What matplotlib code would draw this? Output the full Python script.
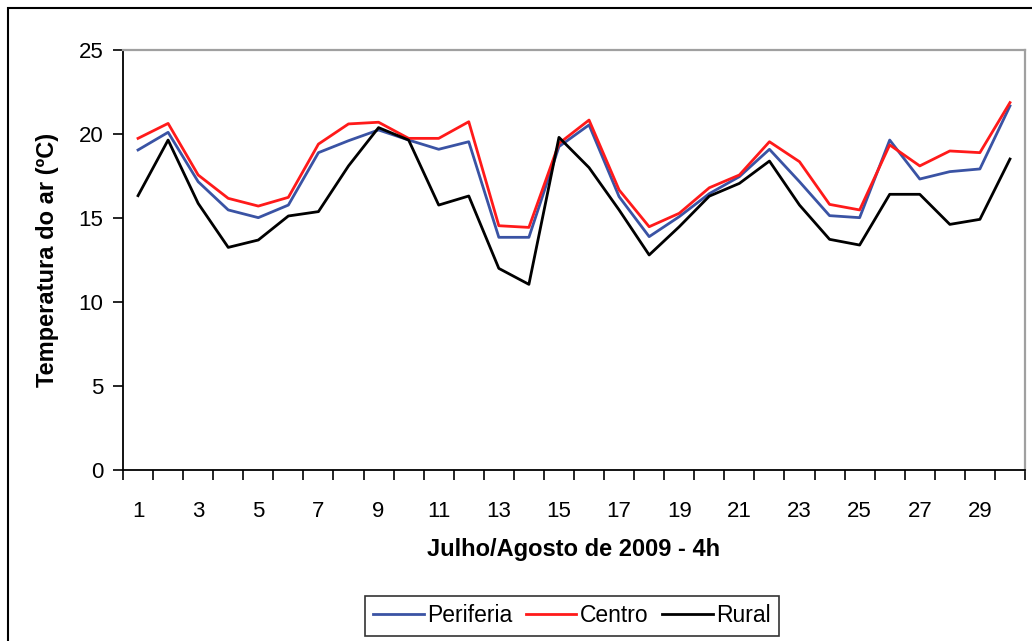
import numpy as np
import matplotlib
matplotlib.use("Agg")
import matplotlib.pyplot as plt
from matplotlib.patches import Rectangle
from matplotlib.ticker import FixedLocator

plt.rcParams['font.family'] = ['Liberation Sans', 'DejaVu Sans']

days = list(range(1, 31))
periferia = [19.05, 20.1, 17.16, 15.48, 15.02, 15.77, 18.89, 19.6, 20.24, 19.64,
             19.09, 19.54, 13.85, 13.85, 19.25, 20.54, 16.27, 13.89, 15.08, 16.45,
             17.46, 19.09, 17.16, 15.14, 15.02, 19.64, 17.32, 17.76, 17.92, 21.67]
centro = [19.74, 20.63, 17.56, 16.17, 15.71, 16.23, 19.40, 20.6, 20.7, 19.74,
          19.74, 20.73, 14.54, 14.44, 19.44, 20.83, 16.67, 14.48, 15.28, 16.8,
          17.56, 19.54, 18.35, 15.81, 15.48, 19.35, 18.1, 18.99, 18.89, 21.87]
rural = [16.33, 19.64, 15.87, 13.25, 13.69, 15.12, 15.38, 18.1, 20.38, 19.64,
         15.77, 16.31, 12.0, 11.05, 19.8, 18.0, 15.48, 12.8, 14.48, 16.3,
         17.06, 18.39, 15.77, 13.73, 13.39, 16.41, 16.41, 14.62, 14.92, 18.51]
xtick_labels = [str(d) for d in range(1, 31, 2)]

fig = plt.figure(figsize=(10.32, 6.41), dpi=100)
fig.patches.append(Rectangle((8/1032, -0.1), 1.2, 1.1 - 8/641,
                             transform=fig.transFigure, fill=False,
                             edgecolor='black', linewidth=1.5))
ax = fig.add_axes([123/1032, 1 - 470/641, (1025-123)/1032, (470-50)/641])

ax.plot(days, periferia, color='#3A53A4', lw=2, label='Periferia')
ax.plot(days, centro, color='#FF1A1A', lw=2, label='Centro')
ax.plot(days, rural, color='black', lw=2, label='Rural')

ax.set_xlim(0.5, 30.5)
ax.set_ylim(0, 25)
ax.set_yticks([0, 5, 10, 15, 20, 25])
ax.set_xticks(list(range(1, 31, 2)))
ax.set_xticklabels(xtick_labels)
ax.xaxis.set_minor_locator(FixedLocator(np.arange(0.5, 31, 1)))
ax.tick_params(axis='x', which='major', length=0, pad=22, labelsize=16)
ax.tick_params(axis='x', which='minor', length=7, width=1.2)
ax.tick_params(axis='y', length=7, width=1.2, pad=7, labelsize=16)
for s in ['left', 'bottom']:
    ax.spines[s].set_linewidth(1.3)
for s in ['top', 'right']:
    ax.spines[s].set_color('#A0A0A0')
    ax.spines[s].set_linewidth(1.6)

ax.set_ylabel('Temperatura do ar (ºC)', fontsize=17, fontweight='bold', labelpad=14)
ax.set_xlabel('Julho/Agosto de 2009 - 4h', fontsize=17, fontweight='bold', labelpad=12)

leg = ax.legend(loc='center', bbox_to_anchor=(572/1032, 1 - 616/641),
                bbox_transform=fig.transFigure, ncol=3, fontsize=16.5,
                frameon=True, fancybox=False, handlelength=2.2, handletextpad=0.15,
                columnspacing=0.6, borderpad=0.35)
leg.get_frame().set_edgecolor('black')
leg.get_frame().set_linewidth(1.2)

fig.savefig('out.png', dpi=100)
